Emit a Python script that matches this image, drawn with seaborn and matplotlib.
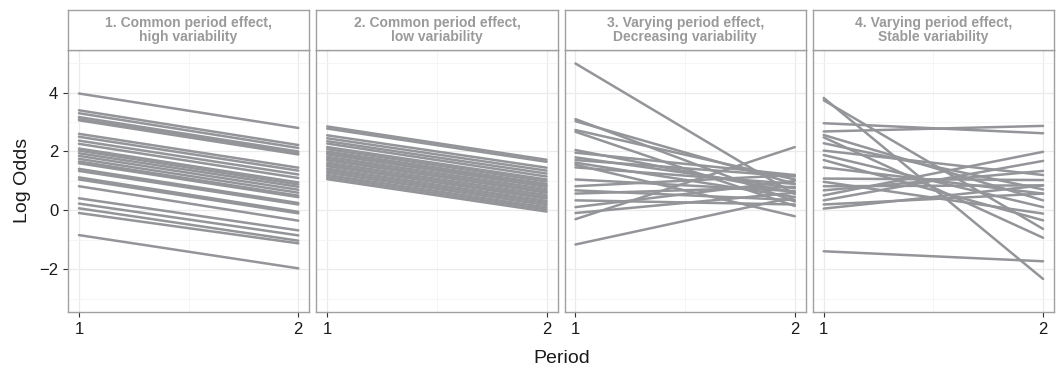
import numpy as np
import pandas as pd
import seaborn as sns
import matplotlib.pyplot as plt
from matplotlib.ticker import MultipleLocator

# panel titles
titles = ["1. Common period effect,\nhigh variability",
          "2. Common period effect,\nlow variability",
          "3. Varying period effect,\nDecreasing variability",
          "4. Varying period effect,\nStable variability"]

# log odds at period 1 and period 2, one entry per unit
p1_start = [3.97, 3.40, 3.30, 3.17, 3.10, 3.06, 2.60, 2.50, 2.37, 2.26, 2.10, 2.03, 1.94,
            1.85, 1.75, 1.66, 1.60, 1.41, 1.34, 1.12, 1.05, 0.82, 0.41, 0.23, 0.07, -0.09, -0.84]
p1_end = [2.80, 2.22, 2.12, 2.00, 1.95, 1.90, 1.45, 1.35, 1.22, 1.10, 0.95, 0.88, 0.80,
          0.70, 0.60, 0.50, 0.45, 0.25, 0.20, -0.05, -0.10, -0.35, -0.68, -0.85, -1.03, -1.12, -1.97]

p2_start = [2.85, 2.78, 2.55, 2.45, 2.35, 2.27, 2.15, 2.08, 2.00, 1.95, 1.90, 1.82, 1.75,
            1.70, 1.62, 1.55, 1.50, 1.42, 1.35, 1.28, 1.20, 1.13, 1.06]
p2_end = [1.72, 1.65, 1.45, 1.35, 1.25, 1.15, 1.05, 0.98, 0.90, 0.85, 0.80, 0.72, 0.65,
          0.60, 0.52, 0.45, 0.40, 0.32, 0.25, 0.18, 0.10, 0.03, -0.04]

p3_start = [4.99, 3.10, 3.03, 2.73, 2.67, 2.05, 1.96, 1.80, 1.71, 1.62, 1.55, 1.46, 1.05,
            0.82, 0.68, 0.57, 0.34, 0.11, -0.09, -0.30, -1.16]
p3_end = [0.55, 0.30, 0.90, 1.05, 0.15, 0.60, 1.20, 0.75, 1.15, 0.45, -0.20, 0.90, 0.65,
          1.20, 0.35, 0.80, 0.20, 1.00, 0.60, 2.15, 0.45]

p4_start = [3.82, 3.74, 2.96, 2.68, 2.56, 2.48, 2.28, 2.03, 1.88, 1.71, 1.46, 1.08, 0.97,
            0.82, 0.68, 0.51, 0.34, 0.20, 0.06, -1.39]
p4_end = [-2.33, -0.63, 2.62, 2.87, 0.34, -0.93, 0.71, 1.20, 0.11, -0.34, 0.57, 1.03, -0.11,
          0.85, 1.34, 1.99, 1.68, 0.57, 0.85, -1.73]

starts = [p1_start, p2_start, p3_start, p4_start]
ends = [p1_end, p2_end, p3_end, p4_end]

rows = []
for k in range(4):
    for i, (a, b) in enumerate(zip(starts[k], ends[k])):
        rows.append((k, i, 1, a))
        rows.append((k, i, 2, b))
df = pd.DataFrame(rows, columns=["panel", "unit", "Period", "LogOdds"])

sns.set_style("white")
plt.rcParams['font.family'] = ['Liberation Sans', 'DejaVu Sans']

fig, axes = plt.subplots(1, 4, figsize=(10.59, 3.70), dpi=100, sharey=True)
fig.subplots_adjust(left=0.0642, right=0.9953, top=0.865, bottom=0.157, wspace=0.029)

for k, ax in enumerate(axes):
    sub = df[df.panel == k]
    sns.lineplot(data=sub, x="Period", y="LogOdds", units="unit", estimator=None,
                 color="#939598", linewidth=1.8, ax=ax)
    ax.set_xlim(0.95, 2.05)
    ax.set_ylim(-3.45, 5.45)
    ax.set_xticks([1, 2])
    ax.set_yticks([-2, 0, 2, 4])
    ax.xaxis.set_minor_locator(MultipleLocator(0.5))
    ax.yaxis.set_minor_locator(MultipleLocator(1))
    ax.grid(True, which="major", color="#EBEBEB", linewidth=0.9)
    ax.grid(True, which="minor", color="#F4F4F4", linewidth=0.6)
    ax.set_axisbelow(True)
    for s in ax.spines.values():
        s.set_color("#A0A0A0")
        s.set_linewidth(1.0)
    ax.tick_params(axis="both", which="major", length=3.5, width=0.8, color="#333333",
                   labelsize=12, labelcolor="#1A1A1A", bottom=True, left=(k == 0))
    ax.tick_params(axis="both", which="minor", length=0)
    ax.set_xlabel("")
    ax.set_ylabel("")

    # facet strip
    pos = ax.get_position()
    sax = fig.add_axes([pos.x0, pos.y1, pos.width, 40 / 370])
    sax.set_xticks([])
    sax.set_yticks([])
    for s in sax.spines.values():
        s.set_color("#A0A0A0")
        s.set_linewidth(1.0)
    sax.text(0.5, 0.5, titles[k], ha="center", va="center", fontsize=10,
             fontweight="bold", color="#9A9A9A", linespacing=1.0, transform=sax.transAxes)

axes[0].set_ylabel("Log Odds", fontsize=14, color="#1A1A1A", labelpad=6)
fig.text(0.53, 0.03, "Period", ha="center", va="center", fontsize=14, color="#1A1A1A")

fig.savefig("out.png", dpi=100)
